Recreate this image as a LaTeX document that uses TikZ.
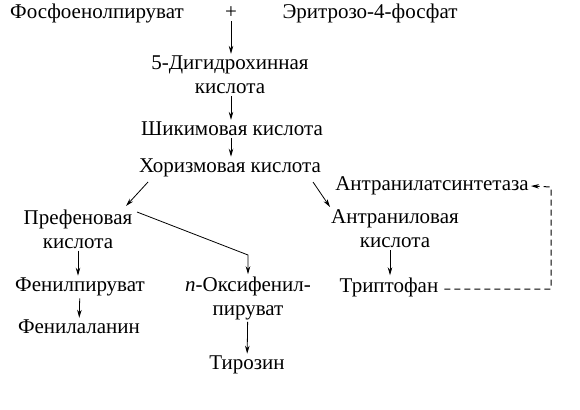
\documentclass[tikz,border=0pt]{standalone}
\usepackage{fontspec}
\setmainfont{Liberation Serif}
\usetikzlibrary{arrows.meta}

\tikzset{
  subst/.style={inner sep=2pt, align=center, font=\fontsize{21}{24}\selectfont},
  arr/.style={-{Stealth[length=8pt,width=4.5pt]}, thick}
}

\begin{document}
\begin{tikzpicture}[x=1pt,y=-1pt]
\useasboundingbox (0,0) rectangle (580,409);

% Исходные вещества
\node[subst] (pep)  at (97,13)  {Фосфоенолпируват};
\node[subst] (plus) at (231,13) {+};
\node[subst] (e4p)  at (370,13) {Эритрозо-4-фосфат};

% Общий путь
\node[subst] (dhq) at (230,75)  {5-Дигидрохинная\\кислота};
\node[subst] (shk) at (232,129) {Шикимовая кислота};
\node[subst] (chr) at (230,168) {Хоризмовая кислота};

\draw[arr] (plus) -- (plus |- dhq.north);
\draw[arr] (dhq.south -| plus) -- (shk.north -| plus);
\draw[arr] (shk.south -| plus) -- (chr.north -| plus);

% Ветви
\node[subst] (pre) at (78,229)  {Префеновая\\кислота};
\node[subst] (ant) at (395,229) {Антраниловая\\кислота};
\node[subst] (ans) at (432,186) {Антранилатсинтетаза};

\draw[arr] (148,182) -- (126,206);
\draw[arr] (313,182) -- (330,207);

% Фенилаланин
\node[subst] (fpv) at (80,287)  {Фенилпируват};
\node[subst] (fal) at (79,327)  {Фенилаланин};
\draw[arr] (pre.south) -- (pre.south |- fpv.north);
\draw[arr] (fpv) -- (fal);

% Тирозин
\node[subst] (opv) at (248,298) {\textit{n}-Оксифенил-\\пируват};
\node[subst] (tyr) at (247,365) {Тирозин};
\coordinate (bend) at (248,255);
\draw[arr] (137,212) -- (bend) -- (opv.north);
\draw[arr] (opv) -- (tyr);

% Триптофан и обратная связь
\node[subst] (trp) at (389,287) {Триптофан};
\draw[arr] (ant.south -| 390,0) -- (trp.north -| 390,0);
\coordinate (fbA) at (551,289);
\coordinate (fbB) at (551,187);
\draw[arr, line width=1pt, dash pattern=on 6pt off 4pt] (trp.east) ++(4,2) -- (fbA) -- (fbB) -- (ans.east);
\end{tikzpicture}
\end{document}
